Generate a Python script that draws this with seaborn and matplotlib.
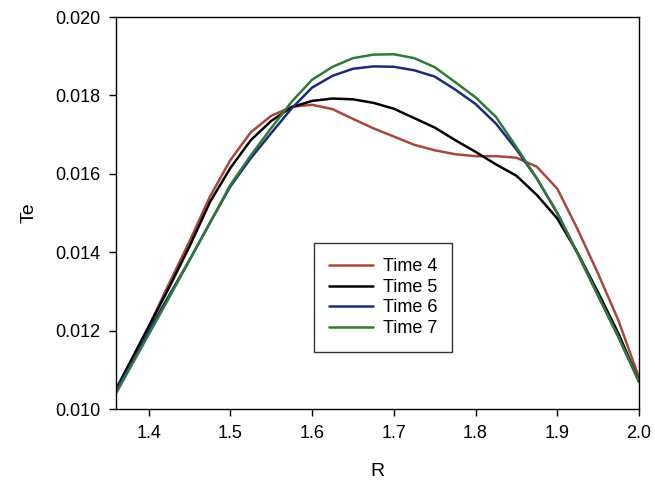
import numpy as np
import pandas as pd
import matplotlib
matplotlib.use("Agg")
import matplotlib.pyplot as plt
import seaborn as sns
from matplotlib.ticker import FormatStrFormatter, MultipleLocator

R = [1.36, 1.38, 1.40, 1.425, 1.45, 1.475, 1.50, 1.525, 1.55, 1.575, 1.60, 1.625, 1.65, 1.675,
     1.70, 1.725, 1.75, 1.775, 1.80, 1.825, 1.85, 1.875, 1.90, 1.925, 1.95, 1.975, 2.00]
time4 = [0.0105, 0.0113, 0.0121, 0.0132, 0.01428, 0.01542, 0.01635, 0.01706, 0.01748, 0.01771,
         0.01776, 0.01765, 0.01740, 0.01716, 0.01695, 0.01674, 0.01660, 0.01650, 0.01645, 0.01645,
         0.01641, 0.01618, 0.01562, 0.01458, 0.01345, 0.01225, 0.01080]
time5 = [0.0105, 0.0113, 0.0121, 0.0131, 0.01415, 0.01528, 0.01615, 0.01686, 0.01735, 0.01770,
         0.01786, 0.01792, 0.01790, 0.01781, 0.01766, 0.01742, 0.01718, 0.01686, 0.01656, 0.01624,
         0.01595, 0.01546, 0.01486, 0.01398, 0.01297, 0.01192, 0.01070]
time6 = [0.0105, 0.0112, 0.0120, 0.0129, 0.0138, 0.01475, 0.01568, 0.01640, 0.01704, 0.01767,
         0.01820, 0.01850, 0.01868, 0.01874, 0.01873, 0.01864, 0.01848, 0.01815, 0.01778, 0.01728,
         0.01662, 0.01588, 0.01500, 0.01396, 0.01289, 0.01183, 0.01070]
time7 = [0.0104, 0.01115, 0.0119, 0.01284, 0.0138, 0.01475, 0.01572, 0.01647, 0.01717, 0.01784,
         0.01840, 0.01873, 0.01895, 0.01904, 0.01905, 0.01895, 0.01872, 0.01834, 0.01795, 0.01745,
         0.01668, 0.01588, 0.01500, 0.01396, 0.01289, 0.01183, 0.01070]
labels = ["Time 4", "Time 5", "Time 6", "Time 7"]
colors = ["#a8483c", "#000000", "#1c2a7a", "#2f7a36"]

df = pd.concat([
    pd.DataFrame({"R": R, "Te": vals, "series": lab})
    for vals, lab in zip([time4, time5, time6, time7], labels)
], ignore_index=True)

sns.set_style("ticks")
plt.rcParams["font.family"] = ["Liberation Sans", "DejaVu Sans"]
plt.rcParams["text.color"] = "black"
plt.rcParams["axes.labelcolor"] = "black"

fig = plt.figure(figsize=(6.55, 4.82), dpi=100)
ax = fig.add_axes([116/655, 1 - 409/482, (639-116)/655, (409-17)/482])

sns.lineplot(data=df, x="R", y="Te", hue="series", hue_order=labels,
             palette=colors, linewidth=1.8, ax=ax, sort=False)

ax.set_xlim(1.36, 2.0)
ax.set_ylim(0.010, 0.020)
ax.xaxis.set_major_locator(MultipleLocator(0.1))
ax.yaxis.set_major_locator(MultipleLocator(0.002))
ax.xaxis.set_major_formatter(FormatStrFormatter("%.1f"))
ax.yaxis.set_major_formatter(FormatStrFormatter("%.3f"))
ax.tick_params(axis="both", direction="out", length=5, width=1, labelsize=13,
               pad=6.5, top=False, right=False, colors="black")
for s in ax.spines.values():
    s.set_visible(True)
    s.set_color("black")
    s.set_linewidth(1.0)
ax.set_xlabel("R", fontsize=14, labelpad=15, color="black")
ax.set_ylabel("Te", fontsize=14, labelpad=12, color="black")

leg = ax.legend(loc="center", bbox_to_anchor=(0.511, 0.284), frameon=True,
                fancybox=False, edgecolor="black", fontsize=13,
                handlelength=2.4, handletextpad=0.55, borderpad=0.85,
                labelspacing=0.2, borderaxespad=0)
leg.get_frame().set_linewidth(1.0)
for t in leg.get_texts():
    t.set_color("black")
leg.set_title(None)

fig.savefig("out.png", dpi=100)
